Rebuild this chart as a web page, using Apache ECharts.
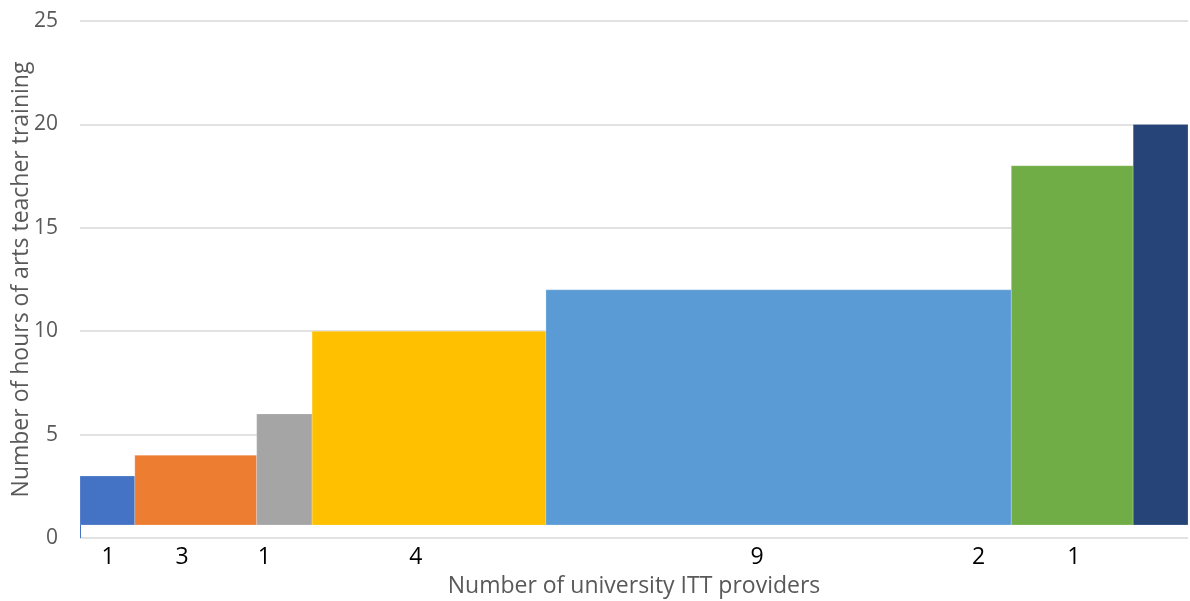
<!DOCTYPE html>
<html>
<head>
<meta charset="utf-8">
<script src="https://cdn.jsdelivr.net/npm/echarts@6/dist/echarts.min.js"></script>
<style>
html,body{margin:0;padding:0;background:#fff;}
#chart{width:1190px;height:601px;}
</style>
</head>
<body>
<div id="chart"></div>
<script>
// Bar widths (horizontal extent, axis units) and heights (hours)
const barWidths = [0.94, 2.09, 0.95, 4.01, 7.98, 2.09, 0.94];
const barHours = [3, 4, 6, 10, 12, 18, 20];
const barColors = ['#4472C4', '#ED7D31', '#A5A5A5', '#FFC000', '#5B9BD5', '#70AD47', '#264478'];
// Provider count labels and where they sit along the x axis
const providerLabels = ['1', '3', '1', '4', '9', '2', '1'];
const providerLabelPos = [0.48, 1.75, 3.16, 5.76, 11.61, 15.41, 17.04];
const yTicks = [0, 5, 10, 15, 20, 25];

const barData = [];
let acc = 0;
for (let i = 0; i < barWidths.length; i++) {
  barData.push([acc, acc + barWidths[i], barHours[i], i]);
  acc += barWidths[i];
}
const xMax = acc;
const labelData = providerLabelPos.map((p, i) => [p, 0, providerLabels[i]]);

const chart = echarts.init(document.getElementById('chart'));
const FONT = '"Open Sans", "Liberation Sans", sans-serif';
chart.setOption({
  animation: false,
  backgroundColor: '#fff',
  grid: { left: 80, right: 2, top: 21, bottom: 63, containLabel: false, outerBoundsMode: 'none' },
  xAxis: {
    type: 'value', min: 0, max: xMax,
    axisLine: { show: false }, axisTick: { show: false },
    axisLabel: { show: false }, splitLine: { show: false },
    name: 'Number of university ITT providers',
    nameLocation: 'middle', nameGap: 37, nameMoveOverlap: false,
    nameTextStyle: { color: '#595959', fontSize: 23, fontFamily: FONT }
  },
  yAxis: {
    type: 'value', min: yTicks[0], max: yTicks[yTicks.length - 1], interval: 5,
    axisLine: { show: false }, axisTick: { show: false },
    axisLabel: { color: '#595959', fontSize: 21, fontFamily: FONT, margin: 22 },
    splitLine: { show: true, lineStyle: { color: '#d9d9d9', width: 1.5 } },
    name: 'Number of hours of arts teacher training',
    nameLocation: 'middle', nameGap: 47, nameMoveOverlap: false,
    nameTextStyle: { color: '#595959', fontSize: 23, fontFamily: FONT }
  },
  series: [
    {
      type: 'custom',
      data: barData,
      encode: { x: [0, 1], y: 2 },
      clip: false,
      renderItem: function (params, api) {
        const x0 = api.value(0), x1 = api.value(1), v = api.value(2), ci = api.value(3);
        const pTop = api.coord([x0, v]);
        const pBot = api.coord([x1, 0]);
        const bottom = pBot[1] - 13;
        const children = [{
          type: 'rect',
          shape: { x: pTop[0], y: pTop[1], width: pBot[0] - pTop[0], height: bottom - pTop[1] },
          style: { fill: barColors[ci], stroke: 'rgba(255,255,255,0.35)', lineWidth: 0.6 }
        }];
        if (ci === 0) {
          children.push({
            type: 'line',
            shape: { x1: pTop[0] + 0.5, y1: bottom, x2: pTop[0] + 0.5, y2: pBot[1] },
            style: { stroke: barColors[0], lineWidth: 1 }
          });
        }
        return { type: 'group', children: children };
      }
    },
    {
      type: 'custom',
      data: labelData,
      encode: { x: 0, y: 1 },
      clip: false,
      silent: true,
      renderItem: function (params, api) {
        const p = api.coord([api.value(0), 0]);
        return {
          type: 'text',
          x: p[0], y: p[1] + 19,
          style: {
            text: labelData[params.dataIndex][2],
            fill: '#000', fontSize: 23, fontFamily: FONT,
            align: 'center', verticalAlign: 'middle'
          }
        };
      }
    }
  ]
});
</script>
</body>
</html>
